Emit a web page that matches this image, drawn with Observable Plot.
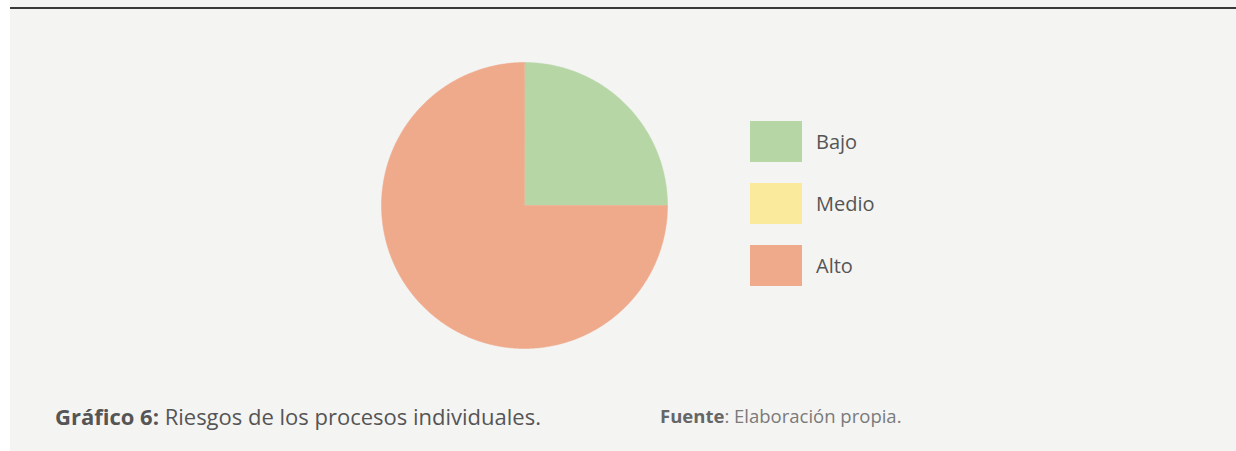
<!DOCTYPE html>
<html><head><meta charset="utf-8">
<script src="https://cdn.jsdelivr.net/npm/d3@7"></script>
<script src="https://cdn.jsdelivr.net/npm/@observablehq/plot@0.6"></script>
<style>
html,body{margin:0;padding:0;background:#fff;}
#wrap{position:absolute;left:10px;top:0;width:1226px;height:451px;background:#f4f4f3;font-family:"Open Sans",sans-serif;overflow:hidden;}
#rule{position:absolute;left:0;top:7px;width:1226px;height:2px;background:#3a3a3a;}
#chart{position:absolute;left:0;top:0;}
#legend{position:absolute;left:740px;top:121px;}
.item{position:absolute;left:0;height:41px;display:flex;align-items:center;white-space:nowrap;}
.sw{width:52px;height:41px;margin-right:14px;}
.lab{font-size:20px;color:#555;}
#cap{position:absolute;left:45px;top:405px;font-size:22px;line-height:22px;color:#555;white-space:nowrap;}
#src{position:absolute;left:650px;top:406px;font-size:18.5px;line-height:19px;color:#7a7a7a;white-space:nowrap;}
#src b{color:#666;}
</style></head>
<body>
<div id="wrap">
<div id="rule"></div>
<div id="chart"></div>
<div id="legend"></div>
<div id="cap"><b>Gráfico 6:</b> Riesgos de los procesos individuales.</div>
<div id="src"><b>Fuente</b>: Elaboración propia.</div>
</div>
<script>
const categories = ["Bajo", "Medio", "Alto"];
const values = [25, 0, 75];
const colors = ["#b7d6a6", "#faeb9c", "#efa98b"];

const arcs = d3.pie().sort(null).value(d => d.value)(categories.map((c, i) => ({cat: c, value: values[i]})));
const pts = [];
for (const a of arcs) {
  if (a.endAngle - a.startAngle <= 0) continue;
  const n = Math.max(2, Math.ceil((a.endAngle - a.startAngle) / 0.01));
  pts.push({cat: a.data.cat, x: 0, y: 0});
  for (let k = 0; k <= n; k++) {
    const t = a.startAngle + (a.endAngle - a.startAngle) * k / n;
    pts.push({cat: a.data.cat, x: Math.sin(t), y: Math.cos(t)});
  }
}

const plot = Plot.plot({
  width: 1226, height: 400,
  margin: 0,
  style: {background: "transparent"},
  x: {domain: [-1, 1], range: [371, 657], axis: null},
  y: {domain: [-1, 1], range: [348, 62], axis: null},
  color: {domain: categories, range: colors},
  marks: [
    Plot.line(pts, {x: "x", y: "y", z: "cat", fill: "cat", stroke: "cat", strokeWidth: 0.5, curve: "linear-closed"})
  ]
});
document.getElementById("chart").appendChild(plot);

const leg = document.getElementById("legend");
categories.forEach((c, i) => {
  const it = document.createElement("div");
  it.className = "item";
  it.style.top = (i * 62) + "px";
  it.innerHTML = `<div class="sw" style="background:${colors[i]}"></div><span class="lab">${c}</span>`;
  leg.appendChild(it);
});
</script>
</body></html>
